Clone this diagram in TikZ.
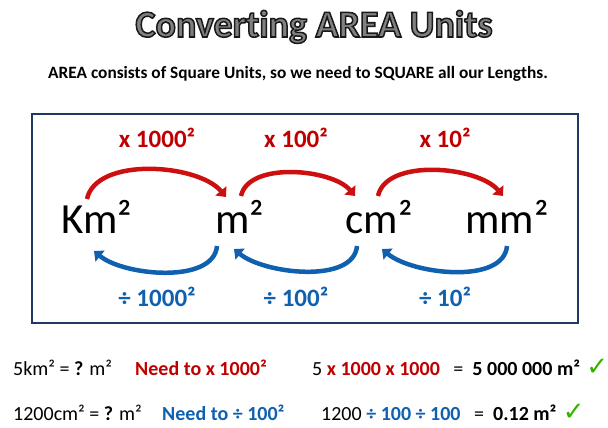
\documentclass[tikz,border=0pt]{standalone}
\usepackage{fontspec}
\setmainfont{Carlito}[Ligatures=NoCommon]
\newfontfamily\symfont{DejaVu Sans}
\usetikzlibrary{arrows.meta}
\definecolor{darkred}{HTML}{C00000}
\definecolor{arrowred}{HTML}{CC1010}
\definecolor{areablue}{HTML}{1060B0}
\definecolor{boxblue}{HTML}{203864}
\definecolor{tickgreen}{HTML}{36B000}
\definecolor{titlegray}{HTML}{808080}
\newcommand{\outlined}[1]{\special{pdf:literal direct 0.1 0.1 0.1 RG 1.5 w 2 Tr}#1\special{pdf:literal direct 0 Tr}}

\begin{document}
\begin{tikzpicture}[x=1pt,y=-1pt]
    \tikzset{unit/.style = {anchor=base,inner sep=0pt,font=\fontsize{43}{43}\selectfont}}
    \tikzset{mult/.style = {line width=4.5pt,draw=arrowred,-{Triangle[width=14pt,length=8pt]}}}
    \tikzset{divi/.style = {line width=4.5pt,draw=areablue,-{Triangle[width=14pt,length=8pt]}}}
    \tikzset{redlab/.style = {anchor=base,text=darkred,font=\bfseries\fontsize{25}{25}\selectfont}}
    \tikzset{bluelab/.style = {anchor=base,text=areablue,font=\bfseries\fontsize{25}{25}\selectfont}}
    \tikzset{sum/.style = {anchor=base west,inner sep=0pt,font=\fontsize{20}{20}\selectfont}}
    \tikzset{tick/.style = {anchor=base west,inner sep=0pt,text=tickgreen,font=\symfont\fontsize{26}{26}\selectfont}}
    \useasboundingbox (0,0) rectangle (608,428);
    \node[anchor=base,text=titlegray,font=\bfseries\fontsize{38}{38}\selectfont] (title) at (314,37)
      {\outlined{Converting AREA Units}};
    \node[anchor=base,font=\bfseries\fontsize{17.3}{17.3}\selectfont] (intro) at (298,78) {AREA consists of Square Units, so we need to SQUARE all our Lengths.};
    \draw[boxblue,line width=2pt] (32,114) rectangle (578,323);
    % the four units
    \node[unit] (km) at (97,233) {Km²}; \node[unit] (m) at (240,233) {m²};
    \node[unit] (cm) at (379,233) {cm²}; \node[unit] (mm) at (507,233) {mm²};
    % multiply going down the units
    \draw[mult] ([shift={(-10,-34)}]km.base) to[out=78,in=130,looseness=0.8] ([shift={(-14,-36)}]m.base);
    \draw[mult] ([shift={(1,-37)}]m.base) to[out=78,in=130,looseness=0.8] ([shift={(-24,-37)}]cm.base);
    \draw[mult] ([shift={(-1,-37)}]cm.base) to[out=78,in=130,looseness=0.8] ([shift={(-4,-37)}]mm.base);
    \node[redlab] (x1) at (157,147) {x 1000²}; \node[redlab] (x2) at (296,147) {x 100²};
    \node[redlab] (x3) at (445,147) {x 10²};
    % divide going up the units
    \draw[divi] ([shift={(-23,13)}]m.base) to[out=-95,in=-40,looseness=0.8] ([shift={(-3,18)}]km.base);
    \draw[divi] ([shift={(-22,13)}]cm.base) to[out=-95,in=-40,looseness=0.8] ([shift={(-6,16)}]m.base);
    \draw[divi] ([shift={(0,13)}]mm.base) to[out=-95,in=-40,looseness=0.8] ([shift={(3,16)}]cm.base);
    \node[bluelab] (d1) at (157,306) {÷ 1000²}; \node[bluelab] (d2) at (296,306) {÷ 100²};
    \node[bluelab] (d3) at (445,306) {÷ 10²};
    % worked examples
    \node[sum] (q1) at (13,375) {5km² = \textbf{?} m²};
    \node[sum,text=darkred,font=\bfseries\fontsize{20}{20}\selectfont] (n1) at (135,375) {Need to x 1000²};
    \node[sum] (a1) at (312,375) {5 \textcolor{darkred}{\textbf{x 1000 x 1000}} \ \ =\ \ \textbf{5 000 000 m²}};
    \node[tick] (t1) at ([xshift=6pt]a1.base east) {✓};
    \node[sum] (q2) at (13,420) {1200cm² = \textbf{?} m²};
    \node[sum,text=areablue,font=\bfseries\fontsize{20}{20}\selectfont] (n2) at (162,420) {Need to ÷ 100²};
    \node[sum] (a2) at (321,420) {1200 \textcolor{areablue}{\textbf{÷ 100 ÷ 100}} \ \ =\ \ \textbf{0.12 m²}};
    \node[tick] (t2) at ([xshift=6pt]a2.base east) {✓};
\end{tikzpicture}
\end{document}
